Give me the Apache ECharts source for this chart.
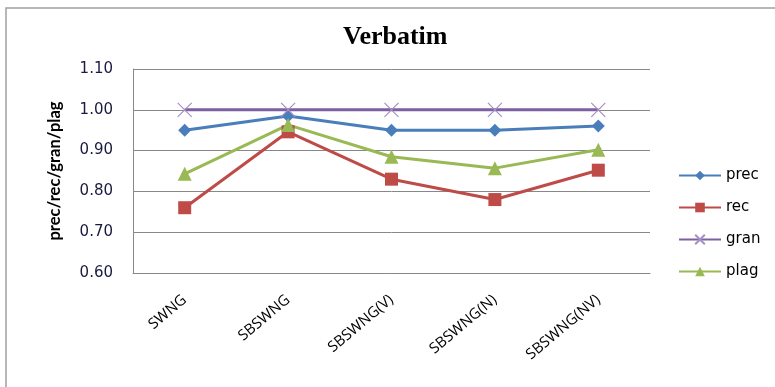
<!DOCTYPE html>
<html>
<head>
<meta charset="utf-8">
<script src="https://cdn.jsdelivr.net/npm/echarts@6/dist/echarts.min.js"></script>
<style>
  html, body { margin: 0; padding: 0; background: #fff; }
  #chart { width: 775px; height: 387px; }
</style>
</head>
<body>
<div id="chart"></div>
<script>
// Methods compared
const categories = ['SWNG', 'SBSWNG', 'SBSWNG(V)', 'SBSWNG(N)', 'SBSWNG(NV)'];

// Scores per method
const prec = [0.95, 0.985, 0.95, 0.95, 0.96];
const rec  = [0.76, 0.946, 0.83, 0.78, 0.852];
const gran = [1.00, 1.00, 1.00, 1.00, 1.00];
const plag = [0.843, 0.963, 0.885, 0.857, 0.902];

const seriesNames = ['prec', 'rec', 'gran', 'plag'];

const crossSymbol = 'path://M0,0L10,10M10,0L0,10';

const SERIF = "'Liberation Serif', 'Times New Roman', serif";
const SANS = "'DejaVu Sans', Verdana, sans-serif";
const HUMAN = "'Open Sans', 'Noto Sans', sans-serif";
const LABEL = "Lato, 'Open Sans', sans-serif";

const chart = echarts.init(document.getElementById('chart'));

function lineSeries(name, data, color, symbol, size, extraItem) {
  return {
    name: name,
    type: 'line',
    data: data,
    symbol: symbol,
    symbolSize: size,
    showAllSymbol: true,
    lineStyle: { color: color, width: 3 },
    itemStyle: Object.assign({ color: color }, extraItem || {}),
    emphasis: { disabled: true },
    animation: false
  };
}

chart.setOption({
  animation: false,
  backgroundColor: '#ffffff',
  title: {
    text: 'Verbatim',
    left: 338,
    top: 19,
    textStyle: {
      fontFamily: SERIF,
      fontWeight: 'bold',
      fontSize: 26,
      color: '#000'
    }
  },
  graphic: [{
    type: 'rect',
    shape: { x: 6, y: 8, width: 800, height: 400 },
    style: { fill: 'none', stroke: '#a0a0a0', lineWidth: 1.5 },
    silent: true
  }],
  legend: {
    orient: 'vertical',
    left: 673,
    top: 163,
    itemWidth: 42,
    itemHeight: 12,
    itemGap: 17,
    data: seriesNames,
    textStyle: { fontFamily: SANS, fontSize: 15, color: '#000' }
  },
  grid: { left: 133, right: 125, top: 69, bottom: 114 },
  xAxis: {
    type: 'category',
    data: categories,
    boundaryGap: true,
    axisLine: { lineStyle: { color: '#888', width: 1 } },
    axisTick: { show: false },
    axisLabel: {
      rotate: 40,
      margin: 25,
      fontFamily: HUMAN,
      fontSize: 15,
      color: '#000'
    }
  },
  yAxis: {
    type: 'value',
    min: 0.6,
    max: 1.1,
    interval: 0.1,
    name: 'prec/rec/gran/plag',
    nameLocation: 'middle',
    nameGap: 70,
    nameRotate: 90,
    nameTextStyle: {
      fontFamily: LABEL,
      fontWeight: 'bold',
      fontSize: 16.5,
      color: '#000'
    },
    axisLine: { show: true, lineStyle: { color: '#888', width: 1 } },
    axisTick: { show: false },
    splitLine: { lineStyle: { color: '#888', width: 1 } },
    axisLabel: {
      margin: 20,
      fontFamily: SANS,
      fontSize: 15,
      color: '#1a1a40',
      formatter: v => v.toFixed(2)
    }
  },
  series: [
    lineSeries('prec', prec, '#4a7ebb', 'diamond', 13),
    lineSeries('rec', rec, '#be4b48', 'rect', 13),
    lineSeries('gran', gran, '#7d60a0', crossSymbol, 14,
      { color: 'rgba(0,0,0,0)', borderColor: '#a48fc4', borderWidth: 1.2 }),
    lineSeries('plag', plag, '#98b954', 'triangle', 14)
  ]
});
</script>
</body>
</html>
